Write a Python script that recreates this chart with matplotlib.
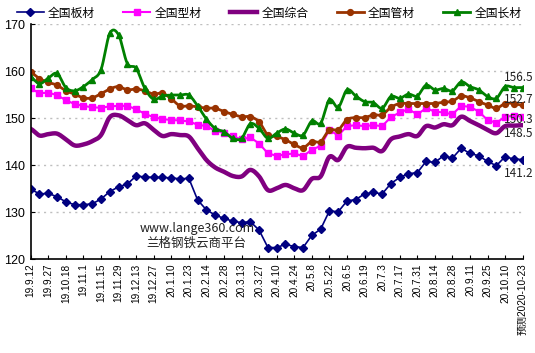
import matplotlib
matplotlib.use("Agg")
import matplotlib.pyplot as plt
import numpy as np

plt.rcParams['font.family'] = ['Liberation Sans', 'Noto Sans CJK SC']
CJK = ['Noto Sans CJK SC', 'DejaVu Sans']

# every second week is labelled on the axis
tick_labels = ["19.9.12", "19.9.27", "19.10.18", "19.11.1", "19.11.15", "19.11.29",
               "19.12.13", "19.12.27", "20.1.10", "20.1.23", "20.2.14", "20.2.28",
               "20.3.13", "20.3.27", "20.4.10", "20.4.24", "20.5.8", "20.5.22",
               "20.6.5", "20.6.19", "20.7.3", "20.7.17", "20.7.31", "20.8.14",
               "20.8.28", "20.9.11", "20.9.25", "20.10.10", "预测2020-10-23"]

plate = [134.9, 133.9, 134.0, 133.3, 132.2, 131.6, 131.6, 131.8, 132.8, 134.4,
         135.4, 136.0, 137.7, 137.5, 137.4, 137.4, 137.3, 137.1, 137.2, 132.6,
         130.5, 129.4, 128.7, 128.1, 127.8, 128.0, 126.2, 122.5, 122.5, 123.2,
         122.7, 122.5, 125.1, 126.4, 130.3, 130.1, 132.4, 132.7, 133.9, 134.2,
         133.9, 136.1, 137.4, 138.2, 138.4, 140.8, 140.6, 142.0, 141.5, 143.6,
         142.5, 142.0, 140.8, 139.9, 141.8, 141.3, 141.2]
section = [156.3, 155.3, 155.4, 154.9, 153.8, 153.0, 152.6, 152.3, 152.2, 152.5,
           152.6, 152.6, 151.9, 150.9, 150.2, 149.8, 149.6, 149.5, 149.3, 148.6,
           148.3, 147.3, 146.9, 146.1, 145.5, 145.9, 144.6, 142.5, 142.0, 142.3,
           142.5, 141.9, 143.3, 144.1, 147.5, 146.3, 148.3, 148.5, 148.3, 148.5,
           148.3, 150.2, 151.2, 151.9, 150.8, 152.1, 151.4, 151.2, 150.8, 152.6,
           152.4, 151.4, 149.6, 149.0, 150.3, 150.5, 150.3]
overall = [147.7, 146.3, 146.6, 146.7, 145.5, 144.2, 144.4, 145.1, 146.4, 150.2,
           150.6, 149.6, 148.5, 148.9, 147.5, 146.2, 146.6, 146.4, 146.1, 143.6,
           141.1, 139.5, 138.6, 137.7, 137.6, 139.0, 137.6, 134.7, 135.1, 135.8,
           135.1, 134.7, 137.1, 137.6, 141.8, 141.1, 143.9, 143.7, 143.6, 143.7,
           143.0, 145.5, 146.1, 146.6, 146.2, 148.3, 148.0, 148.7, 148.5, 150.3,
           149.4, 148.5, 147.5, 146.8, 148.3, 148.4, 148.5]
pipe = [159.7, 158.4, 157.6, 157.0, 155.8, 155.1, 154.3, 154.3, 155.2, 156.2,
        156.7, 156.0, 156.2, 155.8, 155.1, 155.3, 154.1, 152.6, 152.6, 152.4,
        152.1, 152.1, 151.4, 150.8, 150.3, 150.3, 149.2, 146.4, 146.1, 145.4,
        144.4, 143.7, 145.0, 145.0, 147.5, 147.5, 149.7, 150.1, 150.1, 150.7,
        150.7, 152.3, 153.1, 153.1, 153.1, 153.1, 153.1, 153.4, 153.6, 154.7,
        154.3, 153.5, 152.8, 152.1, 153.1, 153.1, 152.7]
long_ = [158.7, 157.3, 158.5, 159.5, 156.5, 155.8, 156.7, 158.2, 160.3, 168.0,
         167.7, 161.6, 160.6, 156.3, 154.0, 154.7, 154.9, 154.9, 154.9, 152.6,
         149.8, 147.8, 147.1, 145.7, 145.7, 148.8, 147.8, 145.7, 146.8, 147.7,
         146.8, 146.4, 149.4, 148.9, 153.9, 152.3, 156.0, 154.7, 153.5, 153.3,
         152.1, 154.6, 154.2, 155.1, 154.7, 157.0, 156.0, 156.3, 155.8, 157.7,
         156.7, 156.0, 154.6, 154.2, 156.7, 156.5, 156.5]

last_labels = ["141.2", "150.3", "148.5", "152.7", "156.5"]

N = 8  # sub-steps per segment for the smoothed lines


def smooth(y, n=N):
    # catmull-rom, roughly what excel does for "smoothed line"
    y = np.asarray(y, float)
    p = np.concatenate([[y[0]], y, [y[-1]]])
    t = np.linspace(0, 1, n, endpoint=False)
    xs, ys = [], []
    for i in range(len(y) - 1):
        p0, p1, p2, p3 = p[i], p[i + 1], p[i + 2], p[i + 3]
        yy = 0.5 * (2 * p1 + (-p0 + p2) * t + (2 * p0 - 5 * p1 + 4 * p2 - p3) * t ** 2
                    + (-p0 + 3 * p1 - 3 * p2 + p3) * t ** 3)
        xs.append(i + t)
        ys.append(yy)
    xs.append([len(y) - 1])
    ys.append([y[-1]])
    return np.concatenate(xs), np.concatenate(ys)


fig = plt.figure(figsize=(5.35, 3.53), dpi=100)
ax = fig.add_axes([0.0574, 0.2654, 0.9196, 0.6666])

x = np.arange(len(plate))
ax.plot(x, plate, color='#000080', lw=1.2, marker='D', ms=3.6, label='全国板材')
ax.plot(x, section, color='#FF00FF', lw=1.5, marker='s', ms=4.3, label='全国型材')
sx, sy = smooth(overall)
ax.plot(sx, sy, color='#800080', lw=3.2, label='全国综合')
sx, sy = smooth(pipe)
ax.plot(sx, sy, color='#993300', lw=2.0, marker='o', ms=4.2, markevery=N, label='全国管材')
sx, sy = smooth(long_)
ax.plot(sx, sy, color='#008000', lw=2.0, marker='^', ms=4.7, markevery=N, label='全国长材')

offsets = [(-3, -10), (-3, -2), (-3, -6), (-3, 4), (-3, 7)]
for ser, lab, off in zip([plate, section, overall, pipe, long_], last_labels, offsets):
    ax.annotate(lab, (x[-1], ser[-1]), xytext=off, textcoords='offset points',
                ha='center', va='center', fontsize=8.5, family=CJK, color='#222222')

ax.set_xlim(0, len(plate) - 1)
ax.set_ylim(120, 170)
ax.set_yticks(np.arange(120, 171, 10))
ax.set_xticks(x[::2])
ax.set_xticklabels(tick_labels, rotation=90, fontsize=7.2)
ax.tick_params(axis='y', labelsize=9, direction='in', length=3, pad=4)
ax.tick_params(axis='x', direction='in', length=3, pad=3)
for lab in ax.get_xticklabels():
    lab.set_family(['Liberation Sans', 'Noto Sans CJK SC'])

for v in range(130, 171, 10):
    ax.axhline(v, color='#BFBFBF', lw=1.0, ls=(0, (1.5, 3)), zorder=0)

for s in ['top', 'right']:
    ax.spines[s].set_visible(False)
ax.spines['left'].set_linewidth(1.2)
ax.spines['bottom'].set_linewidth(1.2)

ax.text(18.9, 126.6, 'www.lange360.com', ha='center', va='center', fontsize=9,
        family=CJK, color='#222222')
ax.text(18.9, 123.5, '兰格钢铁云商平台', ha='center', va='center', fontsize=9,
        family=CJK, color='#222222')

fig.legend(loc='center', bbox_to_anchor=(0.503, 0.963), ncol=5, frameon=False,
           prop={'family': CJK, 'size': 8.5}, handlelength=2.3, handletextpad=0.35,
           columnspacing=2.4, borderaxespad=0)

fig.savefig("out.png", dpi=100)
